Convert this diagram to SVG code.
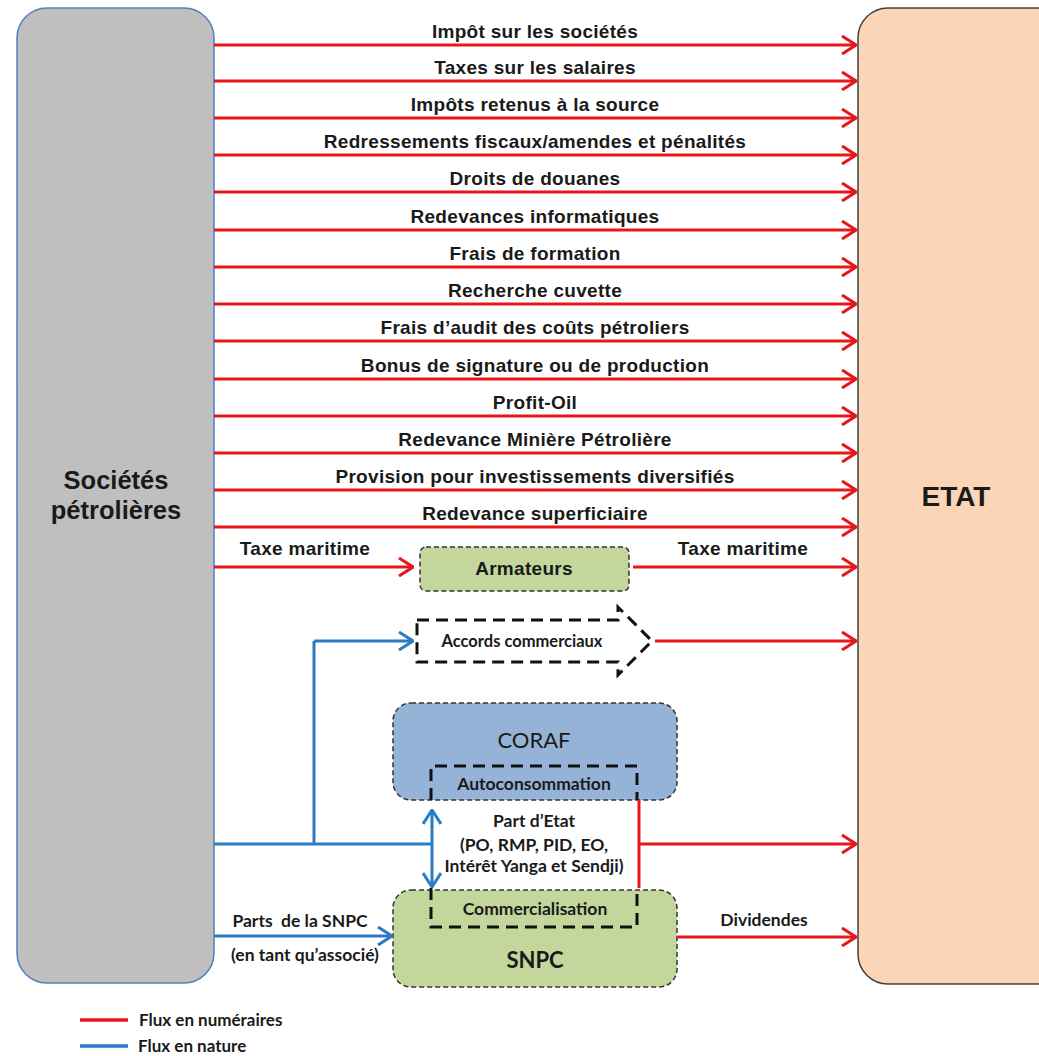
<svg xmlns="http://www.w3.org/2000/svg" width="1039" height="1056" viewBox="0 0 1039 1056">
<style>
.lbl{font-family:"Liberation Sans",Arial,sans-serif;font-weight:bold;font-size:19px;letter-spacing:0.3px;fill:#1a1a1a;text-anchor:middle}
.cal{font-family:Lato,"Open Sans",sans-serif;font-weight:bold;fill:#1a1a1a;text-anchor:middle}
.red{stroke:#e8161b;stroke-width:3;fill:none}
.blue{stroke:#2a7bc4;stroke-width:3;fill:none}
.big{font-family:"Liberation Sans",Arial,sans-serif;font-weight:bold;fill:#1a1a1a;text-anchor:middle}
</style>
<defs>
<marker id="ar" viewBox="0 0 16 20" refX="15" refY="10" markerWidth="16" markerHeight="20" markerUnits="userSpaceOnUse" orient="auto">
<path d="M1,1 L15,10 L1,19" fill="none" stroke="#e8161b" stroke-width="3"/>
</marker>
<marker id="ab" viewBox="0 0 16 20" refX="15" refY="10" markerWidth="16" markerHeight="20" markerUnits="userSpaceOnUse" orient="auto-start-reverse">
<path d="M1,1 L15,10 L1,19" fill="none" stroke="#2a7bc4" stroke-width="3"/>
</marker>
</defs>
<rect width="1039" height="1056" fill="#ffffff"/>
<g id="societes">
<rect x="17" y="8" width="197" height="975" rx="30" fill="#bfbfbf" stroke="#4f81bd" stroke-width="1.5"/>
<text class="big" x="116" y="489" font-size="25.5">Sociétés</text>
<text class="big" x="116" y="519" font-size="25.5">pétrolières</text>
</g>
<g id="etat">
<rect x="858" y="8" width="230" height="976" rx="30" fill="#fbd5b5" stroke="#404040" stroke-width="1.5"/>
<text class="big" x="956" y="506" font-size="28">ETAT</text>
</g>
<g id="armateurs">
<rect x="420" y="547" width="209" height="44" rx="6" fill="#c3d69b" stroke="#333" stroke-width="1.5" stroke-dasharray="5,3"/>
<text class="lbl" x="524" y="575">Armateurs</text>
</g>
<g id="accords">
<path d="M417,620 H618 V607 L652,641 L618,675 V662 H417 Z" fill="#ffffff" stroke="#111" stroke-width="3" stroke-dasharray="12,7"/>
<text class="cal" x="522" y="647" font-size="16.5">Accords commerciaux</text>
</g>
<g id="coraf">
<rect x="393" y="703" width="284" height="97" rx="18" fill="#95b3d7" stroke="#333" stroke-width="1.5" stroke-dasharray="5,3"/>
<text x="534" y="748" font-family="Lato,'Open Sans',sans-serif" font-size="22" fill="#1a1a1a" text-anchor="middle">CORAF</text>
<path d="M431,800 V766 H637 V800" fill="none" stroke="#111" stroke-width="3" stroke-dasharray="12,7"/>
<text class="cal" x="534" y="790" font-size="17.5">Autoconsommation</text>
</g>
<g id="snpc">
<rect x="393" y="890" width="284" height="97" rx="18" fill="#c3d69b" stroke="#333" stroke-width="1.5" stroke-dasharray="5,3"/>
<path d="M431,888 V927 H637 V888" fill="none" stroke="#111" stroke-width="3" stroke-dasharray="12,7"/>
<text class="cal" x="535" y="915" font-size="17.5">Commercialisation</text>
<text x="535" y="968" font-family="Lato,'Open Sans',sans-serif" font-weight="bold" font-size="22" fill="#1a1a1a" text-anchor="middle">SNPC</text>
</g>
<g id="connectors">
<g class="red" marker-end="url(#ar)">
<path d="M214,45 H856"/><path d="M214,81 H856"/><path d="M214,118 H856"/><path d="M214,155 H856"/>
<path d="M214,192 H856"/><path d="M214,230 H856"/><path d="M214,267 H856"/><path d="M214,304 H856"/>
<path d="M214,341 H856"/><path d="M214,379 H856"/><path d="M214,416 H856"/><path d="M214,453 H856"/>
<path d="M214,490 H856"/><path d="M214,527 H856"/>
<path d="M214,567 H413"/><path d="M633,567 H856"/>
<path d="M655,641 H856"/>
<path d="M639,844 H856"/>
<path d="M677,937 H856"/>
</g>
<path class="red" d="M639,800 V888"/>
<path class="blue" d="M214,844 H432 M314,844 V641"/>
<path class="blue" d="M314,641 H413" marker-end="url(#ab)"/>
<path class="blue" d="M432,810 V887" marker-start="url(#ab)" marker-end="url(#ab)"/>
<path class="blue" d="M214,936 H392" marker-end="url(#ab)"/>
</g>
<g id="labels">
<text class="lbl" x="535" y="38">Impôt sur les sociétés</text>
<text class="lbl" x="535" y="74">Taxes sur les salaires</text>
<text class="lbl" x="535" y="111">Impôts retenus à la source</text>
<text class="lbl" x="535" y="148">Redressements fiscaux/amendes et pénalités</text>
<text class="lbl" x="535" y="185">Droits de douanes</text>
<text class="lbl" x="535" y="223">Redevances informatiques</text>
<text class="lbl" x="535" y="260">Frais de formation</text>
<text class="lbl" x="535" y="297">Recherche cuvette</text>
<text class="lbl" x="535" y="334">Frais d’audit des coûts pétroliers</text>
<text class="lbl" x="535" y="372">Bonus de signature ou de production</text>
<text class="lbl" x="535" y="409">Profit-Oil</text>
<text class="lbl" x="535" y="446">Redevance Minière Pétrolière</text>
<text class="lbl" x="535" y="483">Provision pour investissements diversifiés</text>
<text class="lbl" x="535" y="520">Redevance superficiaire</text>
<text class="lbl" x="305" y="555">Taxe maritime</text>
<text class="lbl" x="743" y="555">Taxe maritime</text>
<text class="cal" x="534" y="827" font-size="17.5">Part d’Etat</text>
<text class="cal" x="534" y="851" font-size="17.5">(PO, RMP, PID, EO,</text>
<text class="cal" x="534" y="872" font-size="17.5">Intérêt Yanga et Sendji)</text>
<text class="cal" x="300" y="927" font-size="17.5" xml:space="preserve">Parts  de la SNPC</text>
<text class="cal" x="305" y="961" font-size="17.5">(en tant qu’associé)</text>
<text class="cal" x="764" y="926" font-size="17.5">Dividendes</text>
</g>
<g id="legend">
<line x1="80" y1="1020" x2="128" y2="1020" stroke="#e8161b" stroke-width="3.5"/>
<line x1="80" y1="1046" x2="128" y2="1046" stroke="#2a7bc4" stroke-width="3.5"/>
<text font-family="Lato,'Open Sans',sans-serif" font-weight="bold" font-size="17" fill="#1a1a1a" x="139" y="1026">Flux en numéraires</text>
<text font-family="Lato,'Open Sans',sans-serif" font-weight="bold" font-size="17" fill="#1a1a1a" x="138" y="1052">Flux en nature</text>
</g>
</svg>
